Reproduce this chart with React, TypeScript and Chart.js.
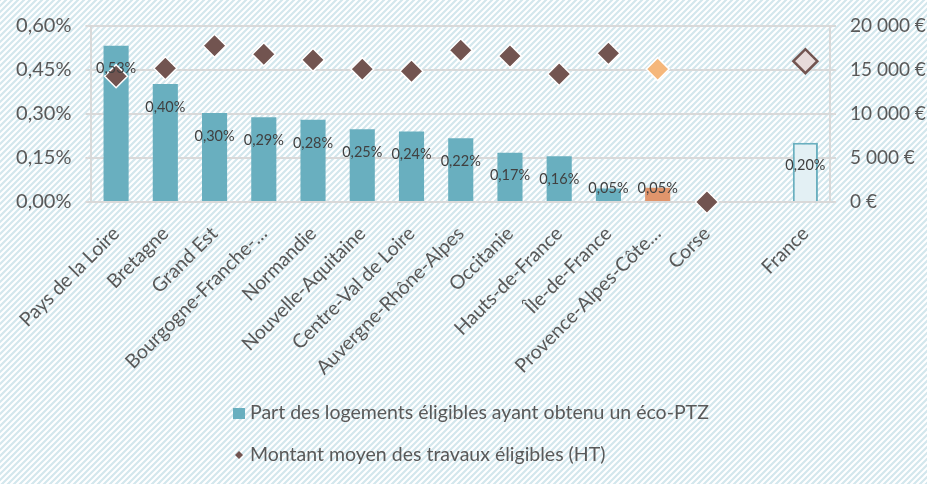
import React, { useEffect, useRef } from 'react';
import { Chart, registerables } from 'chart.js';
Chart.register(...registerables);

const categories = [
  'Pays de la Loire', 'Bretagne', 'Grand Est', 'Bourgogne-Franche-…', 'Normandie',
  'Nouvelle-Aquitaine', 'Centre-Val de Loire', 'Auvergne-Rhône-Alpes', 'Occitanie',
  'Hauts-de-France', 'Île-de-France', 'Provence-Alpes-Côte…', 'Corse', '', 'France',
];
const shareValues = [0.533, 0.402, 0.303, 0.289, 0.280, 0.248, 0.240, 0.217, 0.168, 0.156, 0.046, 0.049, null, null, 0.202];
const amountValues = [14300, 15200, 17750, 16800, 16150, 15100, 14850, 17250, 16600, 14550, 16900, 15100, 0, null, 16000];
const leftTicks = [0, 0.15, 0.3, 0.45, 0.6];
const rightTicks = [0, 5000, 10000, 15000, 20000];
const legendLabels = [
  'Part des logements éligibles ayant obtenu un éco-PTZ',
  'Montant moyen des travaux éligibles (HT)',
];

const TEAL = '#69AFBF';
const BROWN = '#725450';
const FONT = 'Lato, "Open Sans", sans-serif';
const TXT = '#595959';

const fmtPct = (v: number) => v.toFixed(2).replace('.', ',') + '%';
const fmtEur = (v: number) => Math.round(v).toString().replace(/\B(?=(\d{3})+(?!\d))/g, ' ') + ' €';

export default function App() {
  const ref = useRef<HTMLCanvasElement | null>(null);
  useEffect(() => {
    document.body.style.margin = '0';
    const canvas = ref.current!;
    const barColors = categories.map((c, i) => (i === 11 ? '#E0956C' : i === 14 ? '#E3F0F4' : TEAL));
    const barBorders = categories.map((c, i) => (i === 14 ? TEAL : 'rgba(0,0,0,0)'));
    const barBorderW = categories.map((c, i) => (i === 14 ? 2 : 0));
    const ptColors = categories.map((c, i) => (i === 11 ? '#F5B77B' : i === 14 ? '#E7DBDA' : BROWN));
    const ptBorders = categories.map((c, i) => (i === 14 ? BROWN : '#FFFFFF'));
    const ptBorderW = categories.map((c, i) => (i === 14 ? 2.5 : 1.5));
    const ptRadius = categories.map((c, i) => (i === 14 ? 12 : 11.5));

    const bgPlugin = {
      id: 'bg',
      beforeDraw(chart: any) {
        const ctx = chart.ctx;
        const p = document.createElement('canvas');
        p.width = 6; p.height = 6;
        const pc = p.getContext('2d')!;
        pc.fillStyle = '#FFFFFF';
        pc.fillRect(0, 0, 6, 6);
        pc.strokeStyle = '#D3E7ED';
        pc.lineWidth = 2.2;
        pc.beginPath();
        pc.moveTo(-1, 7); pc.lineTo(7, -1);
        pc.moveTo(-4, 4); pc.lineTo(4, -4);
        pc.moveTo(2, 10); pc.lineTo(10, 2);
        pc.stroke();
        ctx.save();
        ctx.fillStyle = ctx.createPattern(p, 'repeat');
        ctx.fillRect(0, 0, chart.width, chart.height);
        ctx.restore();
      },
    };

    const labelPlugin = {
      id: 'labels',
      afterDatasetsDraw(chart: any) {
        const ctx = chart.ctx;
        const meta = chart.getDatasetMeta(1);
        const base = chart.scales.y.getPixelForValue(0);
        ctx.save();
        ctx.font = '14.5px ' + FONT;
        ctx.fillStyle = '#404040';
        ctx.textAlign = 'center';
        ctx.textBaseline = 'middle';
        meta.data.forEach((el: any, i: number) => {
          const v = shareValues[i];
          if (v === null || v === undefined) return;
          const y = Math.min(el.y + 23, base - 14);
          ctx.fillText(fmtPct(v), el.x, y);
        });
        ctx.restore();
      },
    };

    const legendPlugin = {
      id: 'customLegend',
      afterDraw(chart: any) {
        const ctx = chart.ctx;
        ctx.save();
        ctx.font = '19.5px ' + FONT;
        ctx.textAlign = 'left';
        ctx.textBaseline = 'middle';
        ctx.fillStyle = TEAL;
        ctx.fillRect(233, 408, 12, 11);
        ctx.fillStyle = TXT;
        ctx.fillText(legendLabels[0], 250, 413);
        ctx.fillStyle = BROWN;
        ctx.beginPath();
        ctx.moveTo(239, 451); ctx.lineTo(243, 455); ctx.lineTo(239, 459); ctx.lineTo(235, 455);
        ctx.closePath();
        ctx.fill();
        ctx.fillStyle = TXT;
        ctx.fillText(legendLabels[1], 250, 455);
        ctx.restore();
      },
    };

    const chart = new Chart(canvas, {
      type: 'bar',
      data: {
        labels: categories,
        datasets: [
          {
            type: 'line',
            label: legendLabels[1],
            data: amountValues,
            yAxisID: 'y1',
            showLine: false,
            pointStyle: 'rectRot',
            pointRadius: ptRadius,
            pointBackgroundColor: ptColors,
            pointBorderColor: ptBorders,
            pointBorderWidth: ptBorderW,
            clip: false,
            order: 0,
          } as any,
          {
            type: 'bar',
            label: legendLabels[0],
            data: shareValues,
            yAxisID: 'y',
            backgroundColor: barColors,
            borderColor: barBorders,
            borderWidth: barBorderW,
            categoryPercentage: 1,
            barPercentage: 0.51,
            order: 1,
          } as any,
        ],
      },
      options: {
        responsive: false,
        animation: false,
        layout: { padding: { top: 26, left: 0, right: 0, bottom: 0 } },
        plugins: { legend: { display: false }, tooltip: { enabled: false } },
        scales: {
          x: {
            grid: { display: false, drawTicks: false },
            border: { display: false },
            ticks: {
              autoSkip: false,
              maxRotation: 45,
              minRotation: 45,
              padding: 20,
              color: TXT,
              font: { family: FONT, size: 19.5 },
            },
            afterFit(s: any) { s.height = 282; },
          },
          y: {
            position: 'left',
            min: 0,
            max: 0.6,
            afterBuildTicks(s: any) { s.ticks = leftTicks.map((v) => ({ value: v })); },
            grid: { color: '#D9D9D9', lineWidth: 2, tickLength: 6 },
            border: { display: true, color: '#D9D9D9', width: 2 },
            ticks: {
              padding: 14,
              color: TXT,
              font: { family: FONT, size: 20 },
              callback: (v: any) => fmtPct(Number(v)),
            },
            afterFit(s: any) { s.width = 89; },
          },
          y1: {
            position: 'right',
            min: 0,
            max: 20000,
            afterBuildTicks(s: any) { s.ticks = rightTicks.map((v) => ({ value: v })); },
            grid: { drawOnChartArea: false, color: '#D9D9D9', lineWidth: 2, tickLength: 6 },
            border: { display: true, color: '#D9D9D9', width: 2 },
            ticks: {
              padding: 14,
              color: TXT,
              font: { family: FONT, size: 19 },
              callback: (v: any) => fmtEur(Number(v)),
            },
            afterFit(s: any) { s.width = 97; },
          },
        },
      } as any,
      plugins: [bgPlugin, labelPlugin, legendPlugin],
    });
    return () => chart.destroy();
  }, []);
  return <canvas ref={ref} width={927} height={484} style={{ display: 'block' }} />;
}
